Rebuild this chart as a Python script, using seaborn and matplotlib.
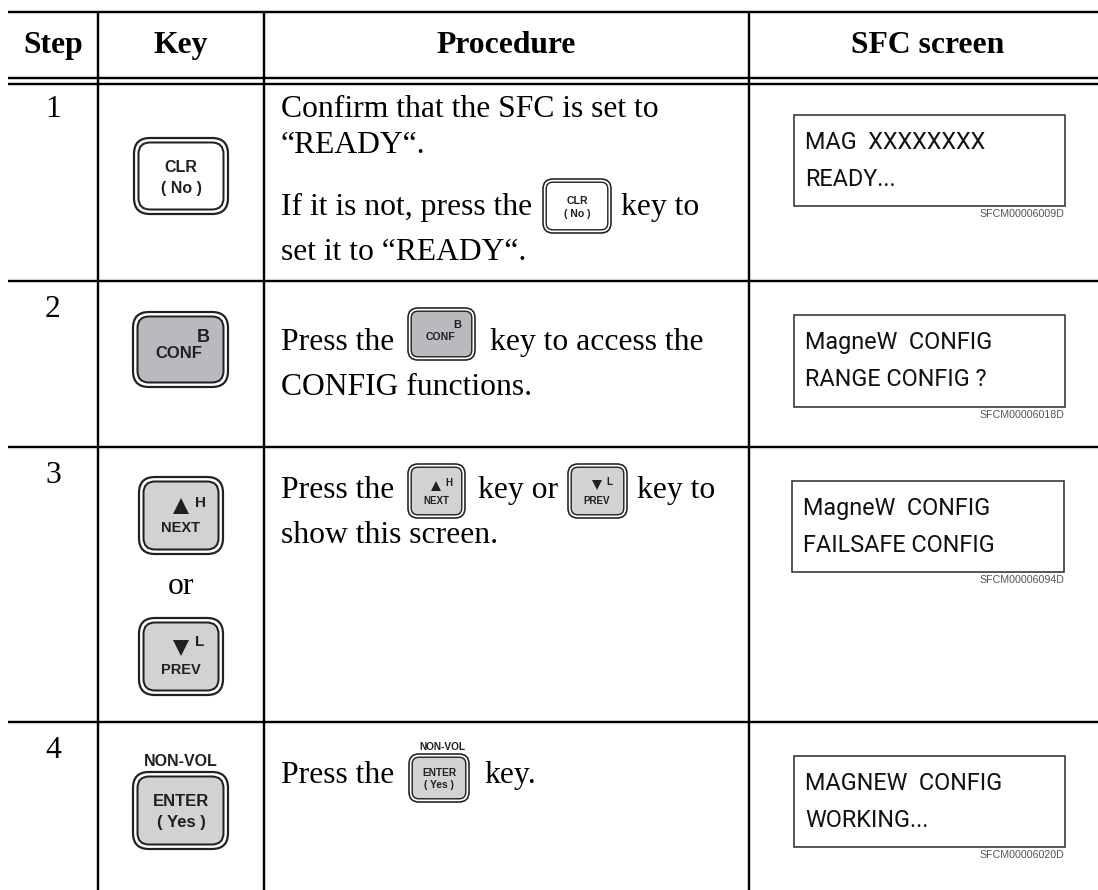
import matplotlib
matplotlib.use("Agg")
import matplotlib.pyplot as plt
from matplotlib.patches import FancyBboxPatch, Rectangle
import seaborn as sns

# ── table content ─────────────────────────────────────────────────────────
headers = ["Step", "Key", "Procedure", "SFC screen"]
steps = ["1", "2", "3", "4"]
proc_row1 = ["Confirm that the SFC is set to", "“READY“.", "If it is not, press the", "key to", "set it to “READY“."]
proc_row2 = ["Press the", "key to access the", "CONFIG functions."]
proc_row3 = ["Press the", "key or", "key to", "show this screen."]
proc_row4 = ["Press the", "key."]
or_word = "or"
screen_top = ["MAG  XXXXXXXX", "MagneW  CONFIG", "MagneW  CONFIG", "MAGNEW  CONFIG"]
screen_bottom = ["READY...", "RANGE CONFIG ?", "FAILSAFE CONFIG", "WORKING..."]
screen_codes = ["SFCM00006009D", "SFCM00006018D", "SFCM00006094D", "SFCM00006020D"]
clr_labels = ["CLR", "( No )"]
conf_labels = ["B", "CONF"]
next_labels = ["H", "NEXT"]
prev_labels = ["L", "PREV"]
enter_labels = ["NON-VOL", "ENTER", "( Yes )"]

# ── style ─────────────────────────────────────────────────────────────────
sns.set_theme(style="white")
plt.rcParams["font.family"] = ["Liberation Serif", "DejaVu Sans"]

SCREEN_FONT = "Roboto"
SANS = "Liberation Sans"
INK = "#231f20"
BODY_SIZE = 22.8
PX = 0.72

fig = plt.figure(figsize=(10.98, 8.9), dpi=100)
ax = fig.add_axes([0, 0, 1, 1])
ax.set_xlim(0, 1098)
ax.set_ylim(890, 0)
ax.axis("off")


def body(x, y, s, ha="left", weight="normal"):
    ax.text(x, y, s, ha=ha, va="baseline", fontsize=BODY_SIZE, color="black",
            fontweight=weight, family="Liberation Serif")


def key_text(x, y, s, size=11.5, weight="bold"):
    ax.text(x, y, s, ha="center", va="center", fontsize=size, color=INK,
            fontweight=weight, family=SANS, zorder=5)


def key_box(x0, y0, x1, y1, fill="white", small=False):
    radius = 10 if small else 16
    inset = 3.2 if small else 4.5
    outer = FancyBboxPatch((x0, y0), x1 - x0, y1 - y0,
                           boxstyle=f"round,pad=0,rounding_size={radius}",
                           fc="white", ec=INK, lw=(1.6 if small else 2.2) * PX, zorder=3)
    inner = FancyBboxPatch((x0 + inset, y0 + inset), x1 - x0 - 2 * inset, y1 - y0 - 2 * inset,
                           boxstyle=f"round,pad=0,rounding_size={radius - inset}",
                           fc=fill, ec=INK, lw=(1.4 if small else 2.0) * PX, zorder=4)
    ax.add_patch(outer)
    ax.add_patch(inner)


def triangle(x, y, marker, size):
    ax.plot([x], [y], marker=marker, ms=size, mfc=INK, mew=0, ls="none", zorder=5)


# ── grid rules ────────────────────────────────────────────────────────────
ax.hlines([12, 78, 84, 281, 447, 722], 8, 1098, color="black", lw=2.4 * PX)
ax.vlines([98, 264, 749], 12, 890, color="black", lw=2.4 * PX)

# ── header and step numbers ───────────────────────────────────────────────
for x, s in zip([53, 181, 506, 928], headers):
    body(x, 53, s, ha="center", weight="bold")
for y, s in zip([117, 317, 483, 758], steps):
    body(53, y, s, ha="center")

# ── key column ────────────────────────────────────────────────────────────
LIGHT = "#d1d2d4"
DARK = "#b9babd"

key_box(134, 138, 228, 214)
key_text(181, 168, clr_labels[0])
key_text(181, 188, clr_labels[1])

key_box(133, 312, 228, 387, DARK)
key_text(203, 337, conf_labels[0], 13)
key_text(179, 353, conf_labels[1], 12)

key_box(139, 477, 223, 554, LIGHT)
triangle(181, 506, "^", 11)
key_text(200, 503, next_labels[0], 11)
key_text(181, 528, next_labels[1], 10.5)

body(181, 594, or_word, ha="center")

key_box(139, 618, 223, 695, LIGHT)
triangle(181, 648, "v", 11)
key_text(200, 642, prev_labels[0], 11)
key_text(181, 670, prev_labels[1], 10.5)

key_text(181, 761, enter_labels[0])
key_box(133, 772, 228, 849, LIGHT)
key_text(181, 802, enter_labels[1], 12)
key_text(181, 822, enter_labels[2], 12)

# ── procedure column ──────────────────────────────────────────────────────
TEXT_X = 281
body(TEXT_X, 117, proc_row1[0])
body(TEXT_X, 153, proc_row1[1])
body(TEXT_X, 215, proc_row1[2])
key_box(543, 179, 611, 233, small=True)
key_text(577, 201, clr_labels[0], 7.6)
key_text(577, 214, clr_labels[1], 7.6)
body(621, 215, proc_row1[3])
body(TEXT_X, 260, proc_row1[4])

body(TEXT_X, 350, proc_row2[0])
key_box(408, 308, 475, 360, DARK, small=True)
key_text(457, 325, conf_labels[0], 8)
key_text(441, 337, conf_labels[1], 7.6)
body(490, 350, proc_row2[1])
body(TEXT_X, 395, proc_row2[2])

body(TEXT_X, 498, proc_row3[0])
key_box(408, 464, 465, 518, LIGHT, small=True)
triangle(436, 486, "^", 7)
key_text(449, 483, next_labels[0], 7)
key_text(436, 501, next_labels[1], 7)
body(478, 498, proc_row3[1])
key_box(568, 464, 627, 518, LIGHT, small=True)
triangle(597, 485, "v", 7)
key_text(609, 482, prev_labels[0], 7)
key_text(597, 501, prev_labels[1], 7)
body(637, 498, proc_row3[2])
body(TEXT_X, 543, proc_row3[3])

body(TEXT_X, 783, proc_row4[0])
key_text(442, 747, enter_labels[0], 7.3)
key_box(409, 754, 469, 802, LIGHT, small=True)
key_text(439, 773, enter_labels[1], 7.3)
key_text(439, 785, enter_labels[2], 7.3)
body(484, 783, proc_row4[1])

# ── SFC screen column ─────────────────────────────────────────────────────
box_x0 = [794, 794, 792, 794]
box_x1 = [1065, 1065, 1064, 1065]
box_y0 = [115, 315, 481, 756]
box_y1 = [206, 407, 572, 847]
for i in range(4):
    ax.add_patch(Rectangle((box_x0[i], box_y0[i]), box_x1[i] - box_x0[i], box_y1[i] - box_y0[i],
                           fc="white", ec="#333333", lw=1.6 * PX))
    ax.text(box_x0[i] + 11, box_y0[i] + 34, screen_top[i], ha="left", va="baseline",
            fontsize=16.8, color="#111111", family=SCREEN_FONT)
    ax.text(box_x0[i] + 11, box_y0[i] + 71, screen_bottom[i], ha="left", va="baseline",
            fontsize=16.8, color="#111111", family=SCREEN_FONT)
    ax.text(1064, box_y1[i] + 11, screen_codes[i], ha="right", va="baseline",
            fontsize=7.7, color="#555555", family=SANS)

sns.despine(ax=ax, left=True, bottom=True)
fig.savefig("out.png", dpi=100)
plt.close(fig)
